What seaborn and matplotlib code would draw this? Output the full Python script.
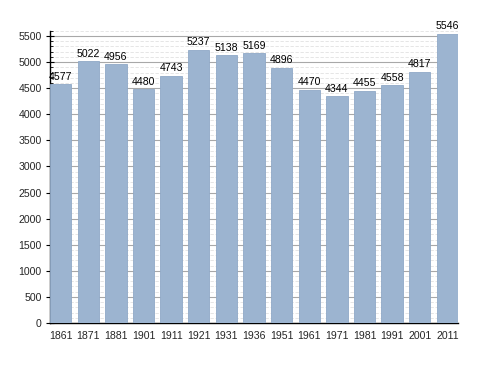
import matplotlib
matplotlib.use("Agg")
import matplotlib.pyplot as plt
import seaborn as sns
import pandas as pd
from matplotlib.ticker import MultipleLocator

years = ["1861", "1871", "1881", "1901", "1911", "1921", "1931", "1936",
         "1951", "1961", "1971", "1981", "1991", "2001", "2011"]
population = [4577, 5022, 4956, 4480, 4743, 5237, 5138, 5169,
              4896, 4470, 4344, 4455, 4558, 4817, 5546]

df = pd.DataFrame({"year": years, "pop": population})

sns.set_style("white")
plt.rcParams['font.family'] = ['Liberation Sans', 'DejaVu Sans']

fig = plt.figure(figsize=(4.88, 3.73), dpi=100)
ax = fig.add_axes([50/488, 1-323/373, 408/488, (323-30.8)/373])

sns.barplot(data=df, x="year", y="pop", color="#9cb4d0", saturation=1,
            width=0.77, edgecolor="#90a9c7", linewidth=0.6, ax=ax, zorder=3)

ax.set_ylim(0, 5600)
ax.set_xlim(-0.385, len(years) - 1 + 0.385)
ax.yaxis.set_major_locator(MultipleLocator(500))
ax.yaxis.set_minor_locator(MultipleLocator(100))
ax.grid(axis="y", which="major", color="#a8a8a8", linewidth=0.8, zorder=0)
ax.grid(axis="y", which="minor", color="#e2e2e2", linewidth=0.6,
        linestyle=(0, (4, 2)), zorder=0)
ax.set_axisbelow(True)

for sp in ["top", "right"]:
    ax.spines[sp].set_visible(False)
for sp in ["left", "bottom"]:
    ax.spines[sp].set_color("black")
    ax.spines[sp].set_linewidth(1.0)

ax.tick_params(axis="y", which="major", left=True, direction="inout",
               length=6, width=0.8, labelsize=7.6, pad=3, color="black")
ax.tick_params(axis="y", which="minor", left=True, direction="in",
               length=2.5, width=0.6, color="black")
ax.tick_params(axis="x", bottom=False, labelsize=7.6, pad=2)
ax.set_xlabel("")
ax.set_ylabel("")

for i, v in enumerate(population):
    ax.text(i, v + 45, str(v), ha="center", va="bottom", fontsize=7.6,
            color="black", zorder=5)

fig.savefig("out.png", dpi=100)
